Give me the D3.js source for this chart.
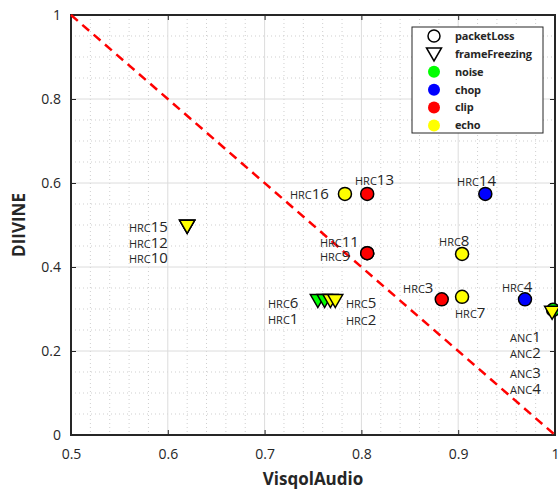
<!DOCTYPE html>
<html>
<head>
<meta charset="utf-8">
<script src="https://cdnjs.cloudflare.com/ajax/libs/d3/7.8.5/d3.min.js"></script>
<style>
    body { margin: 0; background: #ffffff; }
    text { font-family: "Open Sans", "Noto Sans", sans-serif; fill: #262626; }
</style>
</head>
<body>
<div id="chart"></div>
<script>
// points: name, visqol, diivine, marker type, distortion
let pointNames  = ["HRC15", "HRC12", "HRC10", "HRC6", "HRC1", "HRC2", "HRC5", "HRC16", "HRC13", "HRC11", "HRC9",
                   "HRC14", "HRC8", "HRC3", "HRC7", "HRC4", "ANC1", "ANC4"];
let visqolVals  = [0.620, 0.620, 0.620, 0.755, 0.762, 0.768, 0.773, 0.783, 0.806, 0.806, 0.806,
                   0.928, 0.904, 0.883, 0.904, 0.969, 0.998, 0.997];
let diivineVals = [0.497, 0.497, 0.497, 0.320, 0.320, 0.320, 0.320, 0.574, 0.574, 0.433, 0.433,
                   0.574, 0.431, 0.323, 0.329, 0.323, 0.298, 0.292];
let markerTypes = ["frameFreezing", "frameFreezing", "frameFreezing", "frameFreezing", "frameFreezing", "frameFreezing", "frameFreezing",
                   "packetLoss", "packetLoss", "packetLoss", "packetLoss", "packetLoss", "packetLoss", "packetLoss", "packetLoss", "packetLoss",
                   "packetLoss", "frameFreezing"];
let distortions = ["echo", "echo", "echo", "noise", "noise", "echo", "echo", "echo", "clip", "clip", "clip",
                   "chop", "echo", "clip", "echo", "chop", "noise", "echo"];

// text labels, anchored in data coordinates
let labelNums = ["13", "16", "11", "9", "14", "8", "3", "7", "4", "15", "12", "10", "6", "1", "5", "2", "1", "2", "3", "4"];
let labelPrefix = ["HRC", "HRC", "HRC", "HRC", "HRC", "HRC", "HRC", "HRC", "HRC", "HRC", "HRC", "HRC",
                   "HRC", "HRC", "HRC", "HRC", "ANC", "ANC", "ANC", "ANC"];
let labelX = [0.7934, 0.7262, 0.7572, 0.7572, 0.8988, 0.8802, 0.843, 0.8967, 0.9452, 0.5599, 0.5599, 0.5599,
              0.7035, 0.7035, 0.784, 0.784, 0.9535, 0.9535, 0.9535, 0.9535];
let labelY = [0.6095, 0.576, 0.462, 0.4286, 0.607, 0.464, 0.352, 0.293, 0.355, 0.498, 0.46, 0.424,
              0.317, 0.279, 0.317, 0.276, 0.236, 0.198, 0.15, 0.112];

let xTicks = [0.5, 0.6, 0.7, 0.8, 0.9, 1];
let yTicks = [0, 0.2, 0.4, 0.6, 0.8, 1];

let legendNames = ["packetLoss", "frameFreezing", "noise", "chop", "clip", "echo"];
let colorMap = {noise: "#00ff00", chop: "#0000ff", clip: "#ff0000", echo: "#ffff00"};

let margin = {top: 15, right: 3, bottom: 60, left: 71};
let width = 558 - margin.left - margin.right;
let height = 495 - margin.top - margin.bottom;

let svg = d3.select("#chart").append("svg")
    .attr("width", 558)
    .attr("height", 495)
    .append("g")
    .attr("transform", `translate(${margin.left}, ${margin.top})`);

let x = d3.scaleLinear().domain([0.5, 1]).range([0, width]);
let y = d3.scaleLinear().domain([0, 1]).range([height, 0]);

// minor grid
svg.append("g").selectAll("line")
    .data(d3.range(0.52, 1, 0.02).filter(v => Math.abs(v * 10 - Math.round(v * 10)) > 0.01))
    .enter().append("line")
    .attr("x1", d => x(d)).attr("x2", d => x(d))
    .attr("y1", 0).attr("y2", height)
    .attr("stroke", "#cfcfcf").attr("stroke-width", 1)
    .attr("stroke-dasharray", "1,3");
svg.append("g").selectAll("line")
    .data(d3.range(0.05, 1, 0.05).filter(v => Math.abs(v * 5 - Math.round(v * 5)) > 0.01))
    .enter().append("line")
    .attr("y1", d => y(d)).attr("y2", d => y(d))
    .attr("x1", 0).attr("x2", width)
    .attr("stroke", "#cfcfcf").attr("stroke-width", 1)
    .attr("stroke-dasharray", "1,3");

// major grid
svg.append("g").selectAll("line")
    .data(xTicks.slice(1, -1))
    .enter().append("line")
    .attr("x1", d => x(d)).attr("x2", d => x(d))
    .attr("y1", 0).attr("y2", height)
    .attr("stroke", "#dcdcdc");
svg.append("g").selectAll("line")
    .data(yTicks.slice(1, -1))
    .enter().append("line")
    .attr("y1", d => y(d)).attr("y2", d => y(d))
    .attr("x1", 0).attr("x2", width)
    .attr("stroke", "#dcdcdc");

// axes (ticks inside, on all sides)
let xAxis = svg.append("g")
    .attr("transform", `translate(0, ${height})`)
    .call(d3.axisBottom(x).tickValues(xTicks).tickSizeInner(-5).tickSizeOuter(0).tickPadding(14).tickFormat(d3.format("")));
let xAxisTop = svg.append("g")
    .call(d3.axisTop(x).tickValues(xTicks).tickSizeInner(-5).tickSizeOuter(0).tickFormat(""));
let yAxis = svg.append("g")
    .call(d3.axisLeft(y).tickValues(yTicks).tickSizeInner(-5).tickSizeOuter(0).tickPadding(10).tickFormat(d3.format("")));
let yAxisRight = svg.append("g")
    .attr("transform", `translate(${width}, 0)`)
    .call(d3.axisRight(y).tickValues(yTicks).tickSizeInner(-5).tickSizeOuter(0).tickFormat(""));

[xAxis, xAxisTop, yAxis, yAxisRight].forEach(a => {
    a.select(".domain").remove();
    a.selectAll(".tick line").attr("stroke", "#262626").attr("stroke-width", 1);
    a.selectAll(".tick text").attr("font-size", 14).style("fill", "#262626")
        .attr("font-family", "'Open Sans', sans-serif");
});
// last x label sits at the window edge, pull it in a bit
xAxis.selectAll(".tick text").filter(d => d === 1).attr("text-anchor", "end").attr("dx", "4");

// box
svg.append("rect")
    .attr("width", width).attr("height", height)
    .attr("fill", "none")
    .attr("stroke", "#262626").attr("stroke-width", 2);

// diagonal reference line
svg.append("line")
    .attr("x1", x(0.5)).attr("y1", y(1))
    .attr("x2", x(1)).attr("y2", y(0))
    .attr("stroke", "#ff0000").attr("stroke-width", 2.5)
    .attr("stroke-dasharray", "9,6");

// labels
let labels = svg.append("g").selectAll("text")
    .data(labelNums)
    .enter().append("text")
    .attr("x", (d, i) => x(labelX[i]))
    .attr("y", (d, i) => y(labelY[i]))
    .attr("dy", "0.36em");
labels.append("tspan").attr("font-size", 11).text((d, i) => labelPrefix[i]);
labels.append("tspan").attr("font-size", 15).text(d => d);

// markers
let triPath = "M-7.5,-6L7.5,-6L0,7Z";
let pts = svg.append("g");
pointNames.forEach((name, i) => {
    let px = x(visqolVals[i]), py = y(diivineVals[i]);
    if (markerTypes[i] === "packetLoss") {
        pts.append("circle")
            .attr("cx", px).attr("cy", py).attr("r", 6.5)
            .attr("fill", colorMap[distortions[i]])
            .attr("stroke", "#000").attr("stroke-width", 1.5);
    } else {
        pts.append("path")
            .attr("d", triPath)
            .attr("transform", `translate(${px}, ${py})`)
            .attr("fill", colorMap[distortions[i]])
            .attr("stroke", "#000").attr("stroke-width", 1.5);
    }
});

// legend
let legend = svg.append("g")
    .attr("transform", `translate(${412 - margin.left}, ${27 - margin.top})`);
legend.append("rect")
    .attr("width", 131).attr("height", 106)
    .attr("fill", "#ffffff")
    .attr("stroke", "#262626").attr("stroke-width", 1);

legendNames.forEach((name, i) => {
    let ly = 9 + i * 17.9;
    if (name === "packetLoss") {
        legend.append("circle").attr("cx", 22).attr("cy", ly).attr("r", 6)
            .attr("fill", "none").attr("stroke", "#000").attr("stroke-width", 1.5);
    } else if (name === "frameFreezing") {
        legend.append("path").attr("d", triPath)
            .attr("transform", `translate(22, ${ly})`)
            .attr("fill", "none").attr("stroke", "#000").attr("stroke-width", 1.5);
    } else {
        legend.append("circle").attr("cx", 22).attr("cy", ly).attr("r", 6)
            .attr("fill", colorMap[name]);
    }
    legend.append("text")
        .attr("x", 43).attr("y", ly).attr("dy", "0.35em")
        .attr("font-size", 11).attr("font-weight", "bold")
        .attr("letter-spacing", "-0.2")
        .text(name);
});

// axis titles
svg.append("text")
    .attr("x", width / 2).attr("y", height + 50)
    .attr("text-anchor", "middle")
    .attr("font-size", 17).attr("font-weight", "bold")
    .text("VisqolAudio");

svg.append("text")
    .attr("transform", `translate(${-46}, ${y(0.5)}) rotate(-90)`)
    .attr("text-anchor", "middle")
    .attr("font-size", 17).attr("font-weight", "bold")
    .text("DIIVINE");
</script>
</body>
</html>
